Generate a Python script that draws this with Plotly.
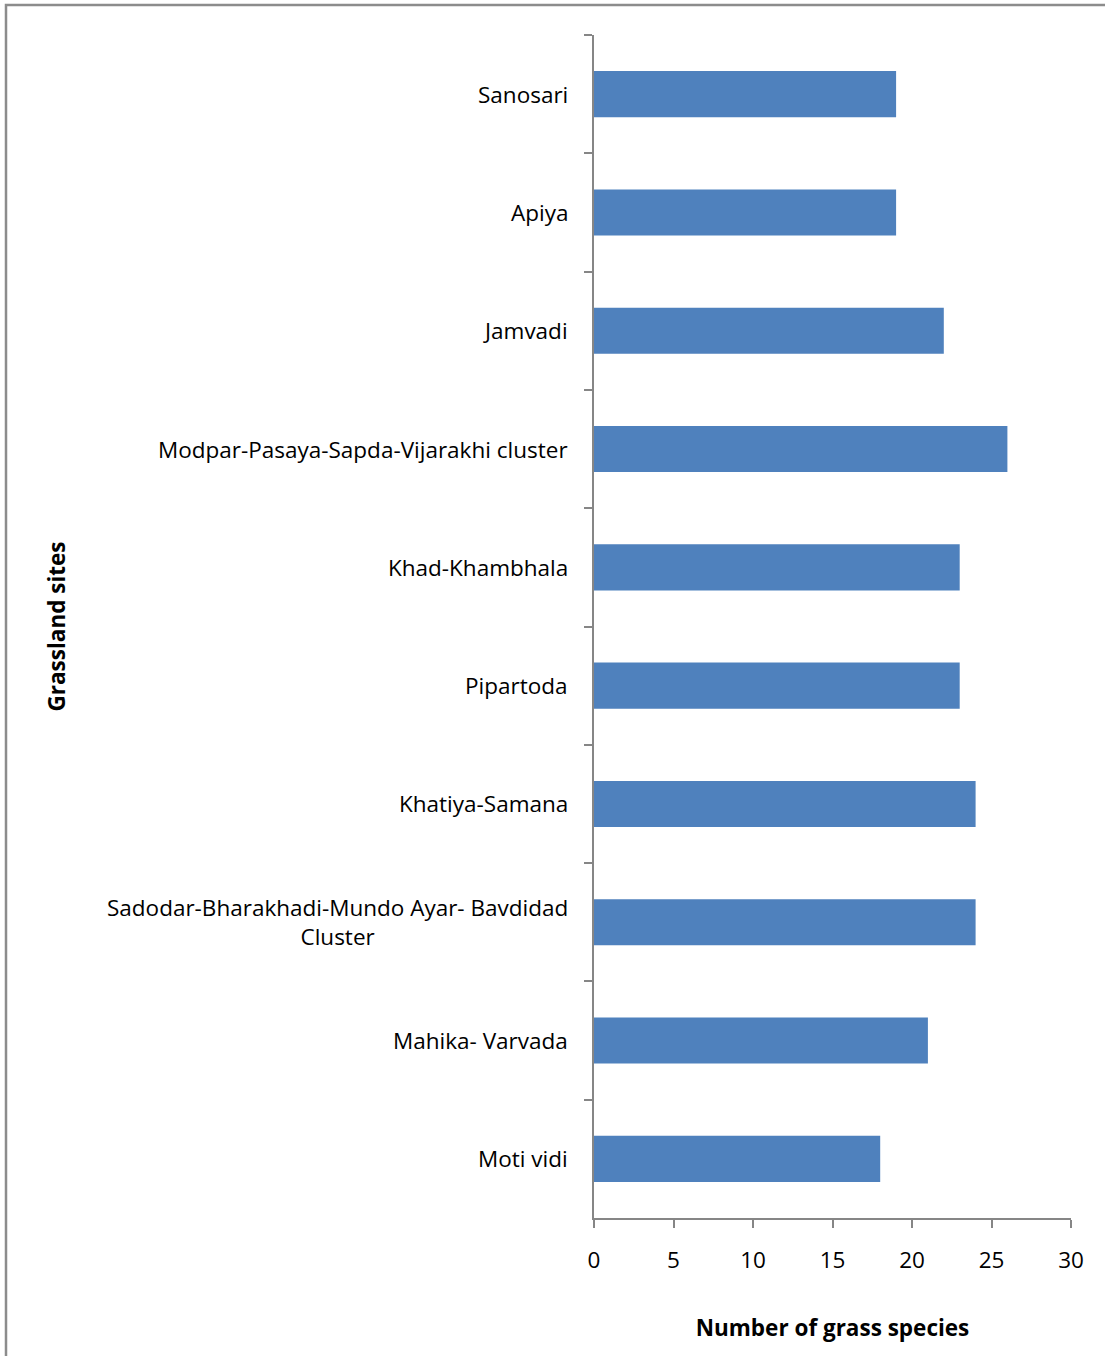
import plotly.graph_objects as go

# Grassland sites, listed top to bottom
sites = [
    "Sanosari",
    "Apiya",
    "Jamvadi",
    "Modpar-Pasaya-Sapda-Vijarakhi cluster",
    "Khad-Khambhala",
    "Pipartoda",
    "Khatiya-Samana",
    "Sadodar-Bharakhadi-Mundo Ayar- Bavdidad<br>Cluster",
    "Mahika- Varvada",
    "Moti vidi",
]
species_counts = [19, 19, 22, 26, 23, 23, 24, 24, 21, 18]
x_ticks = [0, 5, 10, 15, 20, 25, 30]

FONT = "Open Sans, Carlito, Calibri, sans-serif"
FSIZE = 22.5
AXIS_GREY = "#868686"

fig = go.Figure(
    go.Bar(
        x=species_counts,
        y=sites,
        orientation="h",
        marker=dict(color="#4F81BD", line=dict(width=0)),
        hoverinfo="x+y",
    )
)

# Category labels as annotations so wrapped names stay centred
for site in sites:
    fig.add_annotation(
        x=0, y=site, xref="x", yref="y",
        text=site, showarrow=False,
        xanchor="right", yanchor="middle", align="center",
        xshift=-24,
        font=dict(family=FONT, size=FSIZE, color="#000000"),
    )

# Outer frame of the chart area
fig.add_shape(
    type="rect", xref="paper", yref="paper",
    x0=-1.2327, x1=1.09, y0=-0.125, y1=1.0254,
    line=dict(color="#8c8c8c", width=2.5), fillcolor="rgba(0,0,0,0)",
    layer="below",
)

fig.update_layout(
    width=1105, height=1356,
    margin=dict(l=594, r=34, t=35, b=138),
    paper_bgcolor="white", plot_bgcolor="white",
    bargap=0.61,
    showlegend=False,
    font=dict(family=FONT, size=FSIZE, color="#000000"),
    xaxis=dict(
        range=[0, 30], tickvals=x_ticks,
        showline=True, linecolor=AXIS_GREY, linewidth=2,
        ticks="outside", ticklen=8, tickwidth=2, tickcolor=AXIS_GREY,
        showgrid=False, zeroline=False,
        ticklabelstandoff=13,
        tickfont=dict(family=FONT, size=FSIZE, color="#000000"),
        title=dict(text="<b>Number of grass species</b>", standoff=46,
                   font=dict(family=FONT, size=FSIZE, color="#000000")),
    ),
    yaxis=dict(
        categoryorder="array", categoryarray=sites, autorange="reversed",
        showticklabels=False,
        showline=True, linecolor=AXIS_GREY, linewidth=2,
        ticks="outside", tickson="boundaries", ticklen=8, tickwidth=2,
        tickcolor=AXIS_GREY,
        showgrid=False, zeroline=False,
        title=dict(text="<b>Grassland sites</b>", standoff=520,
                   font=dict(family=FONT, size=FSIZE, color="#000000")),
    ),
)

fig.write_html("out.html")
